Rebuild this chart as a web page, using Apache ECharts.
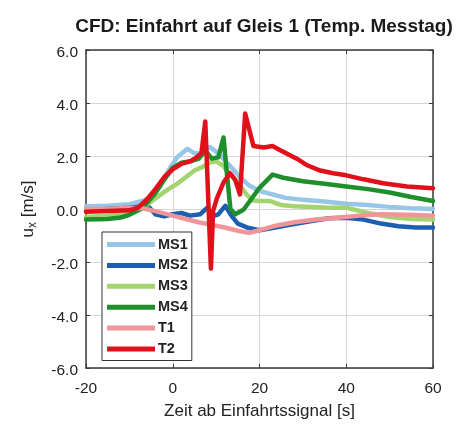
<!DOCTYPE html>
<html>
<head>
<meta charset="utf-8">
<script src="https://cdn.jsdelivr.net/npm/echarts@6/dist/echarts.min.js"></script>
<style>
  html, body { margin: 0; padding: 0; background: #fff; }
  #chart { width: 459px; height: 425px; }
</style>
</head>
<body>
<div id="chart"></div>
<script>
// CFD run, entry on track 1 — u_x over time after entry signal
const xTicks = [-20, 0, 20, 40, 60]
const yTicks = [-6, -4, -2, 0, 2, 4, 6]

const ms1 = [[-20, 0.1], [-15, 0.12], [-10, 0.18], [-7, 0.3], [-5, 0.45], [-3, 0.85], [-1, 1.45], [1, 1.95], [3.4, 2.27], [5, 2.1], [6.5, 2.1], [8.6, 2.34], [10.5, 2.1], [13.2, 1.63], [15.5, 1.2], [17.5, 0.9], [20.2, 0.67], [23, 0.55], [26, 0.42], [30, 0.35], [35, 0.28], [40, 0.2], [45, 0.15], [50, 0.08], [55, 0.03], [60, 0.0]]
const ms2 = [[-20, -0.05], [-15, 0.0], [-10, 0.05], [-7, 0.1], [-5.5, 0.08], [-4, -0.2], [-2, -0.28], [0, -0.2], [2, -0.15], [4, -0.25], [6.3, -0.2], [7.9, 0.04], [9.3, -0.27], [10.5, -0.2], [12.1, 0.12], [13.6, -0.27], [15, -0.55], [17.5, -0.72], [20, -0.8], [23, -0.72], [27, -0.6], [32, -0.45], [36, -0.35], [40, -0.33], [44, -0.4], [48, -0.55], [52, -0.65], [56, -0.7], [60, -0.7]]
const ms3 = [[-20, -0.3], [-15, -0.25], [-10, -0.15], [-7, 0.03], [-4, 0.4], [-1, 0.75], [1, 0.95], [3, 1.2], [5, 1.45], [7, 1.6], [8.5, 1.75], [10, 1.8], [11.5, 1.65], [13, 1.35], [15, 1.0], [17, 0.55], [18.5, 0.32], [20, 0.3], [22.5, 0.3], [25, 0.15], [28, 0.1], [35, 0.06], [40, 0.05], [45, -0.15], [50, -0.3], [55, -0.38], [60, -0.4]]
const ms4 = [[-20, -0.4], [-15, -0.38], [-12, -0.32], [-10, -0.22], [-7, 0.03], [-4, 0.6], [-2, 1.1], [0, 1.55], [2, 1.75], [4, 1.8], [6, 1.9], [7.5, 2.2], [9, 1.9], [10.5, 1.95], [11.7, 2.7], [12.5, 1.3], [13.3, 0.0], [14.4, -0.2], [16.3, -0.03], [18, 0.35], [20, 0.8], [23, 1.3], [25.5, 1.18], [30, 1.05], [35, 0.95], [40, 0.85], [45, 0.75], [50, 0.62], [55, 0.45], [60, 0.3]]
const t1 = [[-20, 0.0], [-15, 0.0], [-10, 0.05], [-7, 0.03], [-4, -0.08], [0, -0.25], [3, -0.38], [6, -0.5], [9, -0.6], [12, -0.7], [15, -0.82], [17.5, -0.9], [20, -0.8], [24, -0.62], [28, -0.5], [33, -0.4], [38, -0.33], [43, -0.25], [48, -0.2], [54, -0.22], [60, -0.25]]
const t2 = [[-20, -0.1], [-15, -0.08], [-10, -0.05], [-8, 0.05], [-6, 0.35], [-4, 0.75], [-2, 1.2], [0, 1.5], [2, 1.7], [4, 1.8], [5.5, 1.95], [6.6, 2.1], [7.5, 3.3], [8.8, -2.25], [9.3, -0.07], [10.2, 0.41], [11.7, 1.0], [13.2, 1.35], [14.4, 1.1], [15.5, 0.55], [16.7, 3.6], [18.6, 2.38], [21, 2.32], [23, 2.38], [25, 2.2], [28.6, 1.9], [31, 1.65], [34, 1.45], [37, 1.35], [40, 1.27], [44, 1.12], [48.5, 0.97], [54, 0.85], [60, 0.78]]

const names = ['MS1', 'MS2', 'MS3', 'MS4', 'T1', 'T2']
const seriesData = [ms1, ms2, ms3, ms4, t1, t2]
const colors = ['#98c6e6', '#1c5fae', '#a3d470', '#1f8e2d', '#f2959a', '#e2101b']

const txt = '#222'
const frame = '#3a3a3a'
const font = 'Liberation Sans'

const chart = echarts.init(document.getElementById('chart'))

const baseX = {
  type: 'value',
  min: xTicks[0],
  max: xTicks[xTicks.length - 1],
  interval: 20,
  axisLine: { show: true, onZero: false, lineStyle: { color: frame, width: 1.5 } },
  axisTick: { show: true, inside: true, length: 4, lineStyle: { color: frame } },
}
const baseY = {
  type: 'value',
  min: yTicks[0],
  max: yTicks[yTicks.length - 1],
  interval: 2,
  axisLine: { show: true, onZero: false, lineStyle: { color: frame, width: 1.5 } },
  axisTick: { show: true, inside: true, length: 4, lineStyle: { color: frame } },
}

chart.setOption({
  animation: false,
  color: colors,
  title: {
    text: 'CFD: Einfahrt auf Gleis 1 (Temp. Messtag)',
    left: 259,
    top: 12,
    textAlign: 'center',
    textStyle: { fontFamily: font, fontSize: 19, fontWeight: 'bold', color: '#1a1a1a' },
  },
  grid: { left: 86, right: 26, top: 50, bottom: 52 },
  legend: {
    data: names,
    orient: 'vertical',
    left: 102,
    top: 232,
    icon: 'rect',
    itemWidth: 48,
    itemHeight: 5,
    itemGap: 5.9,
    padding: [5, 4, 4, 5],
    borderColor: '#333',
    borderWidth: 1,
    backgroundColor: '#fff',
    textStyle: { fontFamily: font, fontSize: 14.5, fontWeight: 'bold', color: txt, padding: [0, 0, 0, -2] },
  },
  xAxis: [
    Object.assign({}, baseX, {
      position: 'bottom',
      name: 'Zeit ab Einfahrtssignal [s]',
      nameLocation: 'middle',
      nameGap: 35,
      nameTextStyle: { fontFamily: font, fontSize: 17, color: txt },
      axisLabel: { fontFamily: font, fontSize: 15.5, color: txt, margin: 13 },
      splitLine: { show: true, lineStyle: { color: '#d6d6d6', width: 1 } },
    }),
    Object.assign({}, baseX, {
      position: 'top',
      axisLabel: { show: false },
      splitLine: { show: false },
    }),
  ],
  yAxis: [
    Object.assign({}, baseY, {
      position: 'left',
      name: '{a|u}{b|x}{a| [m/s]}',
      nameLocation: 'middle',
      nameGap: 47,
      nameTextStyle: {
        rich: {
          a: { fontFamily: font, fontSize: 17, color: txt, lineHeight: 22, verticalAlign: 'middle' },
          b: { fontFamily: font, fontSize: 12, color: txt, lineHeight: 22, verticalAlign: 'bottom' },
        },
      },
      axisLabel: {
        fontFamily: font, fontSize: 15.5, color: txt, margin: 8,
        verticalAlign: 'top', lineHeight: 6,
        formatter: (v) => v.toFixed(1),
      },
      splitLine: { show: true, lineStyle: { color: '#d6d6d6', width: 1 } },
    }),
    Object.assign({}, baseY, {
      position: 'right',
      axisLabel: { show: false },
      splitLine: { show: false },
    }),
  ],
  series: names.map((n, i) => ({
    name: n,
    type: 'line',
    data: seriesData[i],
    showSymbol: false,
    symbol: 'none',
    lineStyle: { width: 4.5, color: colors[i], join: 'round', cap: 'round' },
    itemStyle: { color: colors[i] },
    z: 2 + i,
  })),
})
</script>
</body>
</html>
